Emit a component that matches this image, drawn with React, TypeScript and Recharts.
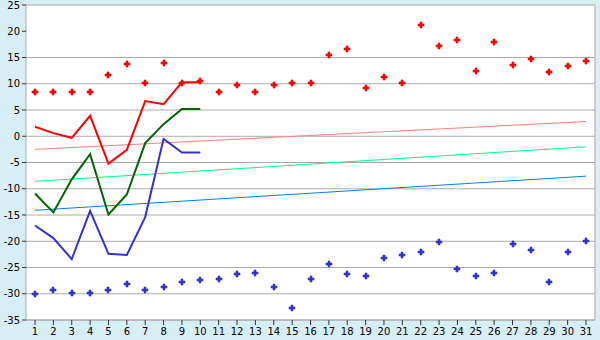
import { ComposedChart, Line, XAxis, YAxis, CartesianGrid } from "recharts"

const days = [1, 2, 3, 4, 5, 6, 7, 8, 9, 10, 11, 12, 13, 14, 15, 16, 17, 18, 19, 20, 21, 22, 23, 24, 25, 26, 27, 28, 29, 30, 31]

// red / blue markers (daily extremes)
const maxMarks = [8.4, 8.4, 8.4, 8.4, 11.6, 13.7, 10.1, 13.9, 10.2, 10.5, 8.4, 9.7, 8.4, 9.7, 10.1, 10.1, 15.4, 16.6, 9.1, 11.2, 10.1, 21.1, 17.1, 18.3, 12.4, 17.9, 13.5, 14.8, 12.2, 13.3, 14.3]
const minMarks = [-30.1, -29.2, -29.9, -29.9, -29.2, -28.2, -29.3, -28.8, -27.8, -27.4, -27.2, -26.3, -26.1, -28.8, -32.8, -27.2, -24.4, -26.3, -26.7, -23.2, -22.7, -22.1, -20.2, -25.2, -26.7, -26.1, -20.6, -21.7, -27.8, -22.1, -20.0]

// measured lines (first 10 days)
const redLine = [1.8, 0.6, -0.3, 3.9, -5.2, -2.6, 6.7, 6.1, 10.3, 10.3]
const greenLine = [-10.9, -14.5, -8.2, -3.4, -14.9, -11.1, -1.3, 2.3, 5.2, 5.2]
const blueLine = [-17.0, -19.4, -23.4, -14.2, -22.4, -22.6, -15.4, -0.5, -3.1, -3.1]

// trend lines: value on first and last day
const redTrend = [-2.5, 2.8]
const greenTrend = [-8.6, -2.0]
const blueTrend = [-14.1, -7.6]

const yTicks = [-35, -30, -25, -20, -15, -10, -5, 0, 5, 10, 15, 20, 25]

const data = days.map((d, i) => ({
  day: d,
  max: maxMarks[i],
  min: minMarks[i],
  red: i < redLine.length ? redLine[i] : null,
  green: i < greenLine.length ? greenLine[i] : null,
  blue: i < blueLine.length ? blueLine[i] : null,
  rt: i === 0 ? redTrend[0] : i === days.length - 1 ? redTrend[1] : null,
  gt: i === 0 ? greenTrend[0] : i === days.length - 1 ? greenTrend[1] : null,
  bt: i === 0 ? blueTrend[0] : i === days.length - 1 ? blueTrend[1] : null,
}))

const plus = (color: string) => (props: any) => {
  const { cx, cy, index } = props
  if (cx == null || cy == null) return <g key={index} />
  const x = Math.round(cx)
  const y = Math.round(cy)
  return (
    <path
      key={index}
      d={`M${x - 1},${y - 3}h2v2h2v2h-2v2h-2v-2h-2v-2h2z`}
      fill={color}
      stroke={color}
      strokeWidth={0.6}
    />
  )
}

const tickStyle = { fill: "#000", fontSize: 10, fontFamily: "DejaVu Sans, Verdana, sans-serif" }

export default function App() {
  return (
    <div style={{ position: "absolute", left: 0, top: 0, width: 600, height: 340, background: "#d8eef5" }}>
      <ComposedChart width={600} height={340} data={data} margin={{ top: 5, right: 0, bottom: 0, left: 0 }}>
        <CartesianGrid vertical={false} stroke="#aaaaaa" fill="#ffffff" />
        <XAxis
          dataKey="day"
          interval={0}
          height={20}
          padding={{ left: 9, right: 9 }}
          stroke="#aaaaaa"
          tickSize={5}
          tickMargin={3}
          tick={tickStyle}
          tickLine={{ stroke: "#333" }}
        />
        <YAxis
          domain={[-35, 25]}
          ticks={yTicks}
          width={26}
          stroke="#aaaaaa"
          tickSize={4}
          tickMargin={2}
          tick={tickStyle}
          tickLine={{ stroke: "#333" }}
          allowDataOverflow
        />
        <YAxis yAxisId="r" orientation="right" width={5} stroke="#aaaaaa" tick={false} tickLine={false} />
        <Line dataKey="rt" stroke="#ff8080" strokeWidth={1} dot={false} connectNulls isAnimationActive={false} />
        <Line dataKey="gt" stroke="#00ff80" strokeWidth={1} dot={false} connectNulls isAnimationActive={false} />
        <Line dataKey="bt" stroke="#0080ff" strokeWidth={1} dot={false} connectNulls isAnimationActive={false} />
        <Line dataKey="red" stroke="#ff0000" strokeWidth={2} dot={false} isAnimationActive={false} />
        <Line dataKey="green" stroke="#006400" strokeWidth={2} dot={false} isAnimationActive={false} />
        <Line dataKey="blue" stroke="#3333cc" strokeWidth={2} dot={false} isAnimationActive={false} />
        <Line dataKey="max" stroke="none" dot={plus("#ff0000")} activeDot={false} isAnimationActive={false} />
        <Line dataKey="min" stroke="none" dot={plus("#3333cc")} activeDot={false} isAnimationActive={false} />
      </ComposedChart>
    </div>
  )
}
